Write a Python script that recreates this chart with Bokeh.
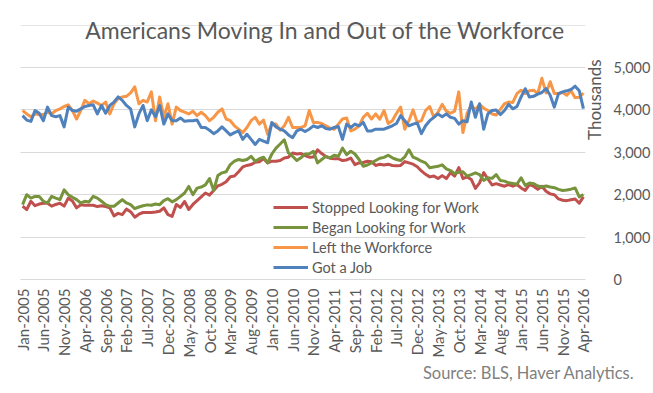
import math
import pandas as pd
from bokeh.plotting import figure
from bokeh.models import (Range1d, FixedTicker, NumeralTickFormatter, Legend, LegendItem, Label,
                          LinearAxis, Grid, Title)
from bokeh.embed import file_html
from bokeh.resources import INLINE

# ---- data -------------------------------------------------------------
months = pd.date_range("2005-01-01", "2016-04-01", freq="MS").strftime("%b-%Y").tolist()

tick_labels = ["Jan-2005", "Jun-2005", "Nov-2005", "Apr-2006", "Sep-2006", "Feb-2007",
               "Jul-2007", "Dec-2007", "May-2008", "Oct-2008", "Mar-2009", "Aug-2009",
               "Jan-2010", "Jun-2010", "Nov-2010", "Apr-2011", "Sep-2011", "Feb-2012",
               "Jul-2012", "Dec-2012", "May-2013", "Oct-2013", "Mar-2014", "Aug-2014",
               "Jan-2015", "Jun-2015", "Nov-2015", "Apr-2016"]

stopped_looking = [
    1730, 1650, 1845, 1740, 1780, 1800, 1800, 1730, 1770, 1800, 1730, 1920, 1850, 1690, 1760, 1750,
    1750, 1750, 1720, 1740, 1720, 1690, 1500, 1560, 1530, 1660, 1600, 1470, 1540, 1580, 1580, 1580,
    1590, 1610, 1690, 1530, 1490, 1770, 1700, 1840, 1650, 1770, 1860, 1950, 2040, 1990, 2100, 2210,
    2245, 2305, 2425, 2440, 2540, 2655, 2690, 2710, 2765, 2775, 2850, 2750, 2790, 2790, 2805, 2865,
    2885, 2985, 2960, 2970, 2920, 2885, 2890, 3060, 2970, 2900, 2860, 2845, 2850, 2805, 2820, 2865,
    2710, 2750, 2760, 2790, 2775, 2690, 2720, 2700, 2720, 2690, 2680, 2690, 2780, 2750, 2720, 2660,
    2560, 2480, 2420, 2440, 2380, 2450, 2380, 2520, 2440, 2640, 2380, 2420, 2360, 2150, 2280, 2520,
    2370, 2230, 2260, 2230, 2200, 2240, 2200, 2240, 2160, 2100, 2240, 2200, 2130, 2200, 2080, 2020,
    2000, 1900, 1870, 1860, 1880, 1900, 1800, 1950]

began_looking = [
    1765, 2000, 1920, 1960, 1960, 1845, 1805, 1960, 1920, 1885, 2115, 2000, 1940, 1885, 1805, 1845,
    1830, 1960, 1920, 1845, 1765, 1725, 1725, 1805, 1885, 1805, 1765, 1670, 1710, 1740, 1760, 1750,
    1780, 1765, 1860, 1905, 1830, 1885, 1960, 2040, 2195, 2000, 2155, 2180, 2230, 2380, 2100, 2450,
    2515, 2540, 2710, 2790, 2830, 2805, 2830, 2905, 2790, 2850, 2885, 2750, 2960, 3100, 3195, 3295,
    2985, 2905, 2805, 2870, 2960, 2960, 3025, 2750, 2830, 2905, 2870, 2930, 2905, 3100, 2945, 3025,
    2960, 2830, 2670, 2700, 2750, 2805, 2860, 2880, 2930, 2870, 2830, 2805, 2890, 3060, 2885, 2845,
    2790, 2750, 2635, 2655, 2670, 2705, 2610, 2570, 2495, 2530, 2540, 2440, 2475, 2515, 2475, 2335,
    2400, 2385, 2475, 2335, 2320, 2280, 2265, 2245, 2400, 2220, 2275, 2260, 2205, 2180, 2205, 2180,
    2165, 2125, 2100, 2110, 2130, 2160, 1950, 2000]

left_workforce = [
    3985, 3905, 3840, 3905, 3890, 3890, 3945, 3905, 3985, 4025, 4080, 4120, 3985, 3785, 3985, 4225,
    4145, 4210, 4160, 4105, 4185, 3905, 4145, 4265, 4305, 4320, 4400, 4545, 4145, 4225, 4185, 4425,
    3745, 4305, 3825, 4145, 3665, 4065, 3985, 3945, 3905, 3970, 3865, 3945, 3865, 3745, 3825, 3945,
    4025, 3785, 3745, 3625, 3545, 3465, 3585, 3745, 3825, 3665, 3760, 3425, 3665, 3665, 3520, 3625,
    3825, 3585, 3585, 3585, 3625, 3985, 3705, 3705, 3680, 3625, 3570, 3545, 3665, 3785, 3810, 3505,
    3545, 3625, 3825, 3920, 3785, 3905, 3780, 3985, 3680, 3745, 3920, 4065, 3545, 3745, 4000, 3705,
    3745, 3985, 4080, 3825, 3945, 4130, 3970, 3920, 3970, 4425, 3465, 3920, 4105, 4000, 4130, 4040,
    3985, 3905, 3880, 4010, 4145, 4185, 4175, 4385, 4465, 4385, 4450, 4465, 4385, 4745, 4400, 4665,
    4385, 4385, 4410, 4345, 4450, 4290, 4300, 4400]

got_a_job = [
    3865, 3760, 3730, 3985, 3920, 3745, 4065, 3865, 3840, 3865, 3600, 4065, 3985, 3970, 4025, 4080,
    4105, 4120, 3905, 4105, 3920, 4105, 4185, 4305, 4225, 4105, 4025, 3600, 3905, 4105, 3745, 4000,
    3840, 4105, 3665, 3905, 3745, 3745, 3810, 3730, 3745, 3745, 3760, 3585, 3585, 3520, 3440, 3505,
    3600, 3505, 3410, 3465, 3505, 3305, 3425, 3305, 3185, 3305, 3265, 3225, 3705, 3600, 3545, 3505,
    3410, 3345, 3505, 3545, 3490, 3545, 3625, 3585, 3625, 3560, 3545, 3585, 3610, 3305, 3665, 3585,
    3665, 3625, 3705, 3505, 3505, 3545, 3545, 3545, 3585, 3625, 3680, 3865, 3745, 3625, 3665, 3690,
    3440, 3625, 3745, 3825, 3905, 3840, 3905, 3825, 3800, 3665, 3745, 3720, 4185, 3825, 4145, 3545,
    3905, 3985, 4000, 3890, 3985, 4130, 4025, 4080, 4305, 4500, 4305, 4320, 4370, 4410, 4505, 4345,
    4065, 4385, 4425, 4450, 4480, 4560, 4450, 4030]

series_names = ["Stopped Looking for Work", "Began Looking for Work", "Left the Workforce", "Got a Job"]
series_values = [stopped_looking, began_looking, left_workforce, got_a_job]
series_colors = ["#C0504D", "#77933C", "#F79646", "#4F81BD"]

y_ticks = [0, 1000, 2000, 3000, 4000, 5000]

title_text = "Americans Moving In and Out of the Workforce"
y_title = "Thousands"
source_text = "Source: BLS, Haver Analytics."

# ---- figure -----------------------------------------------------------
FONT = "Lato"
TXT = "#595959"

p = figure(width=653, height=393, output_backend="svg", toolbar_location=None,
           x_range=Range1d(-0.5, len(months) - 0.5), y_range=Range1d(0, 6580),
           y_axis_location=None,
           min_border_left=20, min_border_right=65, min_border_top=0, min_border_bottom=114)
p.outline_line_color = None
p.background_fill_color = "white"
p.border_fill_color = "white"

x = list(range(len(months)))
renderers = []
for vals, col in zip(series_values, series_colors):
    r = p.line(x, vals, line_color=col, line_width=3, line_join="round")
    renderers.append(r)

# x axis
xa = p.xaxis[0]
xa.ticker = FixedTicker(ticks=[months.index(t) for t in tick_labels])
xa.major_label_overrides = {months.index(t): t for t in tick_labels}
xa.major_label_orientation = math.pi / 2
xa.major_label_text_font = FONT
xa.major_label_text_font_size = "15px"
xa.major_label_text_color = TXT
xa.major_label_standoff = 9
xa.major_tick_line_color = None
xa.minor_tick_line_color = None
xa.major_tick_out = 0
xa.major_tick_in = 0
xa.minor_tick_out = 0
xa.axis_line_color = "#D9D9D9"
p.xgrid.grid_line_color = None

# right side: "Thousands" title (inner, label-only axis), then tick labels (outer)
th_axis = LinearAxis(ticker=FixedTicker(ticks=[]), bounds=(3278, 5000), axis_label=y_title,
                     axis_line_color=None, major_tick_line_color=None, minor_tick_line_color=None,
                     major_tick_out=0, major_tick_in=0, minor_tick_out=0, minor_tick_in=0,
                     major_label_standoff=0, axis_label_standoff=9,
                     axis_label_text_font=FONT, axis_label_text_font_size="17px",
                     axis_label_text_color=TXT, axis_label_text_font_style="normal")
if "axis_label_orientation" in th_axis.properties():
    th_axis.axis_label_orientation = math.pi / 2
p.add_layout(th_axis, "right")

ya = LinearAxis(ticker=FixedTicker(ticks=y_ticks), formatter=NumeralTickFormatter(format="0,0"),
                major_label_text_font=FONT, major_label_text_font_size="14.5px",
                major_label_text_color=TXT, major_label_standoff=-5,
                major_tick_line_color=None, minor_tick_line_color=None,
                major_tick_out=0, major_tick_in=0, minor_tick_out=0, minor_tick_in=0,
                axis_line_color=None)
p.add_layout(ya, "right")

p.add_layout(Grid(dimension=1, ticker=FixedTicker(ticks=y_ticks), grid_line_color="#D9D9D9"))

# bottom: source note, right aligned
src = Title(text=source_text, align="right", vertical_align="bottom", offset=-49, standoff=0,
            text_font=FONT, text_font_size="16.5px", text_font_style="normal",
            text_color="#7F7F7F")
p.add_layout(src, "below")

legend = Legend(items=[LegendItem(label=n, renderers=[r]) for n, r in zip(series_names, renderers)],
                location=(253, 2), background_fill_alpha=0, border_line_color=None,
                padding=0, margin=0, spacing=0, glyph_width=35, glyph_height=20,
                label_height=20, label_standoff=4, label_text_font=FONT,
                label_text_font_size="14.5px", label_text_color=TXT)
p.add_layout(legend)

p.add_layout(Label(x=72.8, y=5896, text=title_text,
                   text_align="center", text_baseline="middle", text_font=FONT,
                   text_font_size="23px", text_color=TXT))

open("out.html", "w").write(file_html(p, INLINE))
